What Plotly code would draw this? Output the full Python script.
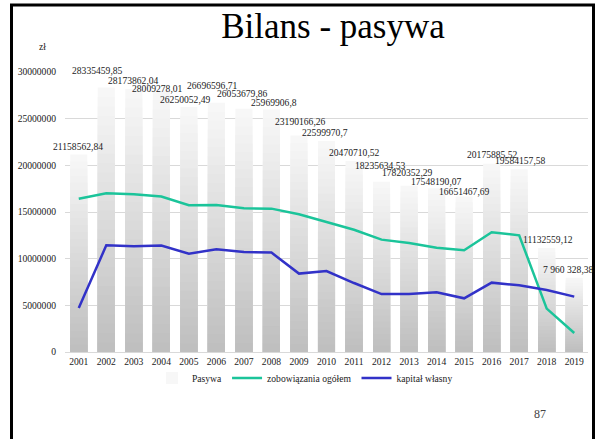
import plotly.graph_objects as go

years = [str(y) for y in range(2001, 2020)]
pasywa = [21158562.84, 28335459.85, 28173862.04, 28009278.01, 26250052.49,
          26696596.71, 26053679.86, 25969906.8, 23190166.26, 22599970.7,
          20470710.52, 18235634.53, 17820352.29, 17548190.07, 16651467.69,
          20175885.52, 19584157.58, 11132559.12, 7960328.38]
pasywa_labels = ["21158562,84", "28335459,85", "28173862,04", "28009278,01",
                 "26250052,49", "26696596,71", "26053679,86", "25969906,8",
                 "23190166,26", "22599970,7", "20470710,52", "18235634,53",
                 "17820352,29", "17548190,07", "16651467,69", "20175885,52",
                 "19584157,58", "11132559,12", "7 960 328,38"]
zobowiazania = [16430000, 17000000, 16900000, 16650000, 15720000, 15750000,
                15400000, 15360000, 14750000, 13930000, 13100000, 12040000,
                11680000, 11180000, 10900000, 12830000, 12500000, 4650000,
                2040000]
kapital = [4710000, 11430000, 11320000, 11400000, 10540000, 11000000,
           10710000, 10650000, 8400000, 8680000, 7390000, 6210000, 6210000,
           6400000, 5750000, 7430000, 7140000, 6640000, 5930000]
y_ticks = [0, 5000000, 10000000, 15000000, 20000000, 25000000, 30000000]

# label placement offsets (pixels), styling only
label_dy = [8, 17, 8.7, 2, 7.7, 17, 15, 7.6, 13.6, 9, 8.4, 16.5, 12.7, 7, 4.6, 9.4, 9, 8.8, 8.3]
label_dx = [-1, -8.5, 0, -3.5, -3, -3.5, -1, 2.5, 2, -2, 0, -1.5, -2, -0.5, 0, 0.5, 1, 1, -5.5]

SERIF = "Liberation Serif, Times New Roman, serif"
W, H = 600, 439
ML, MR, MT, MB = 65, 12, 72, 87
PW, PH = W - ML - MR, H - MT - MB

def px(x):
    return (x - ML) / PW

def py(y):
    return (H - MB - y) / PH

fig = go.Figure()

# gradient bars: layered overlay bars (light top -> gray bottom)
N = 28
top_c, bot_c = 248, 190
for k in range(N):
    frac = 1 - k / N
    t = 1 - (k + 0.5) / N
    c = round(bot_c + (top_c - bot_c) * t)
    fig.add_trace(go.Bar(
        x=years, y=[v * frac for v in pasywa],
        width=0.62,
        marker=dict(color=f"rgb({c},{c},{c})", line=dict(width=0)),
        name="Pasywa", showlegend=(k == 0), legendgroup="p",
        hoverinfo="skip" if k else None,
    ))

fig.add_trace(go.Scatter(x=years, y=zobowiazania, mode="lines",
                         name="zobowiązania ogółem",
                         line=dict(color="#1BC49A", width=2.5)))
fig.add_trace(go.Scatter(x=years, y=kapital, mode="lines",
                         name="kapitał własny",
                         line=dict(color="#3232C8", width=2.5)))

annotations = []
for i, (v, lab) in enumerate(zip(pasywa, pasywa_labels)):
    annotations.append(dict(x=i, y=v, xref="x", yref="y", text=lab, showarrow=False,
                            xanchor="center", yanchor="middle",
                            xshift=label_dx[i], yshift=label_dy[i],
                            font=dict(family=SERIF, size=9.6, color="#222")))

annotations.append(dict(x=px(42), y=py(46), xref="paper", yref="paper",
                        text="zł", showarrow=False, xanchor="center", yanchor="middle",
                        font=dict(family=SERIF, size=9.6, color="#222")))
annotations.append(dict(x=px(540), y=py(414), xref="paper", yref="paper",
                        text="87", showarrow=False, xanchor="center", yanchor="middle",
                        font=dict(family=SERIF, size=12, color="#444")))

frame = dict(color="black", width=3)
shapes = [
    dict(type="line", xref="paper", yref="paper", x0=px(11.5), x1=px(11.5), y0=py(5), y1=py(445), line=frame),
    dict(type="line", xref="paper", yref="paper", x0=px(10), x1=px(595), y0=py(5), y1=py(5), line=frame),
    dict(type="line", xref="paper", yref="paper", x0=px(593.5), x1=px(593.5), y0=py(5), y1=py(445), line=frame),
]

fig.update_layout(
    width=W, height=H,
    margin=dict(l=ML, r=MR, t=MT, b=MB),
    paper_bgcolor="white", plot_bgcolor="white",
    barmode="overlay",
    title=dict(text="Bilans - pasywa", x=333 / W, xanchor="center", xref="container",
               y=1 - 26 / H, yanchor="middle", yref="container",
               font=dict(family=SERIF, size=35, color="black")),
    font=dict(family=SERIF, size=9.6, color="#222"),
    xaxis=dict(type="category", range=[-0.5, 18.5], showgrid=False,
               showline=True, linecolor="#d9d9d9", linewidth=1,
               ticks="", tickfont=dict(family=SERIF, size=9.6, color="#222")),
    yaxis=dict(range=[0, 30000000], tickvals=y_ticks, tickformat="d",
               showgrid=True, gridcolor="#d9d9d9", gridwidth=1,
               zeroline=False, showline=False, ticks="",
               ticklabelstandoff=8,
               tickfont=dict(family=SERIF, size=9.6, color="#222")),
    legend=dict(orientation="h", x=px(305), xanchor="center", y=py(378), yanchor="middle",
                font=dict(family=SERIF, size=9.6, color="#222"),
                itemwidth=30, tracegroupgap=0, bgcolor="rgba(0,0,0,0)"),
    annotations=annotations,
    shapes=shapes,
    showlegend=True,
)

fig.write_html("out.html", config={"displayModeBar": False},
               post_script="document.body.style.margin='0';document.body.style.overflow='hidden';")
